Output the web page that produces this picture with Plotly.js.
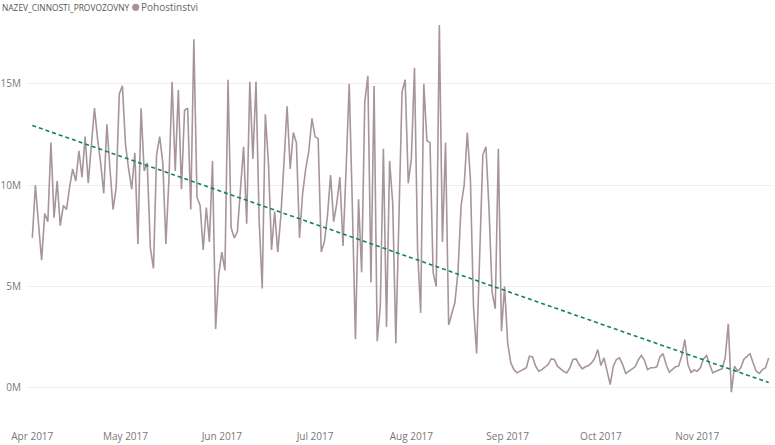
<!DOCTYPE html>
<html>
<head>
<meta charset="utf-8">
<script src="https://cdn.plot.ly/plotly-3.0.1.min.js"></script>
<style>
  html, body { margin: 0; padding: 0; background: #fff; }
  #chart { width: 775px; height: 445px; }
</style>
</head>
<body>
<div id="chart"></div>
<script>
// denni trzby (v milionech), 1.4.2017 - 24.11.2017
const startDate = '2017-04-01';
const apr = [7.4, 10.0, 8.1, 6.3, 8.6, 8.2, 12.1, 8.4, 10.2, 8.0, 9.0, 8.8, 9.9, 10.8, 10.2, 11.7, 10.4, 12.4, 10.1, 11.9, 13.8, 12.3, 11.1, 9.6, 13.0, 10.8, 8.8, 9.9, 14.5, 14.9];
const may = [12.0, 10.8, 9.8, 11.6, 7.1, 13.8, 10.7, 11.1, 6.9, 5.9, 11.5, 12.4, 11.1, 7.1, 10.4, 15.1, 10.7, 14.7, 9.8, 13.7, 13.8, 8.8, 17.2, 9.4, 9.0, 6.8, 8.9, 7.2, 11.2, 2.9, 5.6];
const jun = [6.7, 5.8, 15.2, 7.9, 7.4, 7.7, 9.8, 11.9, 8.1, 15.1, 11.3, 15.1, 8.3, 4.9, 13.5, 11.1, 6.8, 8.7, 6.7, 8.5, 11.1, 13.9, 10.8, 12.6, 12.1, 7.4, 9.6, 10.8, 11.7, 13.3];
const jul = [12.4, 12.3, 6.7, 7.2, 8.5, 10.5, 8.2, 9.1, 10.4, 7.0, 10.8, 15.0, 9.0, 2.4, 9.3, 5.7, 14.1, 15.4, 5.2, 14.9, 2.3, 4.0, 11.8, 3.0, 11.2, 9.1, 2.2, 8.5, 14.6, 15.2, 10.1];
const aug = [11.3, 15.8, 6.8, 3.7, 15.0, 12.2, 12.1, 5.7, 5.0, 17.9, 7.2, 12.1, 3.1, 3.7, 4.2, 5.7, 9.0, 10.0, 12.6, 10.3, 4.0, 1.7, 6.7, 11.5, 11.9, 8.8, 4.7, 3.9, 11.8, 2.8, 5.0];
const sep = [2.2, 1.23, 0.9, 0.74, 0.82, 0.94, 0.99, 1.56, 1.53, 1.07, 0.82, 0.9, 1.04, 1.15, 1.43, 1.4, 1.07, 0.94, 0.82, 0.74, 0.99, 1.4, 1.43, 1.15, 0.94, 1.04, 1.1, 1.23, 1.45, 1.89];
const oct = [1.1, 1.48, 0.82, 0.16, 1.07, 1.4, 1.48, 1.15, 0.71, 0.82, 0.9, 1.04, 1.37, 1.6, 1.37, 0.9, 0.99, 0.99, 1.04, 1.53, 1.69, 1.15, 0.77, 0.9, 1.04, 1.07, 1.56, 2.38, 1.15, 0.76, 0.88];
const nov = [0.82, 0.99, 1.43, 1.6, 1.15, 0.74, 0.82, 0.87, 0.94, 1.48, 3.16, -0.21, 1.07, 0.82, 0.99, 1.4, 1.56, 1.69, 1.23, 0.82, 0.71, 0.9, 0.99, 1.48];

const seriesName = 'Pohostinstvi';
const legendTitle = 'NAZEV_CINNOSTI_PROVOZOVNY';
const yTickVals = [0, 5, 10, 15];
const yTickText = ['0M', '5M', '10M', '15M'];
const xTickVals = ['2017-04-01', '2017-05-01', '2017-06-01', '2017-07-01', '2017-08-01', '2017-09-01', '2017-10-01', '2017-11-01'];
const xTickText = ['Apr 2017', 'May 2017', 'Jun 2017', 'Jul 2017', 'Aug 2017', 'Sep 2017', 'Oct 2017', 'Nov 2017'];

const values = [].concat(apr, may, jun, jul, aug, sep, oct, nov);

// datumy po dnech
const dates = values.map((v, i) => {
    const d = new Date(startDate + 'T00:00:00Z');
    d.setUTCDate(d.getUTCDate() + i);
    return d.toISOString().slice(0, 10);
});

// linearni trend (nejmensi ctverce)
function trend(ys) {
    const n = ys.length;
    let sx = 0, sy = 0, sxx = 0, sxy = 0;
    ys.forEach((y, i) => { sx += i; sy += y; sxx += i * i; sxy += i * y; });
    const b = (n * sxy - sx * sy) / (n * sxx - sx * sx);
    const a = (sy - b * sx) / n;
    return [a, a + b * (n - 1)];
}
const tr = trend(values);

const font = "'Segoe UI', 'Open Sans', sans-serif";
const lineColor = '#a7959a';

// plocha grafu: 28..772 px vodorovne, 17..398 px svisle
const W = 775, H = 445, L = 28, R = 3, T = 17, B = 47;
const px = x => (x - L) / (W - L - R);
const py = y => 1 - (y - T) / (H - T - B);

const traces = [
    {
        x: dates, y: values, type: 'scatter', mode: 'lines', name: seriesName,
        line: { color: lineColor, width: 1.6 },
        showlegend: false, hoverinfo: 'x+y'
    },
    {
        x: [dates[0], dates[dates.length - 1]], y: tr, type: 'scatter', mode: 'lines',
        line: { color: '#13806f', width: 1.6, dash: '4px,3px' },
        showlegend: false, hoverinfo: 'skip'
    }
];

const layout = {
    width: W, height: H,
    paper_bgcolor: '#ffffff', plot_bgcolor: '#ffffff',
    font: { family: font, size: 10, color: '#777' },
    margin: { l: L, r: R, t: T, b: B, autoexpand: false },
    showlegend: false,
    xaxis: {
        type: 'date',
        range: ['2017-03-30 14:47', '2017-11-25 01:40'],
        tickvals: xTickVals, ticktext: xTickText,
        showgrid: false, zeroline: false, showline: false,
        ticks: '', ticklabelstandoff: 31,
        tickfont: { size: 10, color: '#777' }
    },
    yaxis: {
        range: [-0.5, 18.3],
        tickvals: yTickVals, ticktext: yTickText,
        showgrid: true, gridcolor: '#eeeeee', gridwidth: 1,
        zeroline: false, showline: false,
        ticks: '', ticklabelstandoff: 6,
        tickfont: { size: 10, color: '#777' }
    },
    // legenda ve stylu Power BI
    annotations: [
        {
            text: legendTitle, xref: 'paper', yref: 'paper',
            x: px(0), y: py(7.5), xanchor: 'left', yanchor: 'middle', showarrow: false,
            font: { family: font, size: 8.4, color: '#555' }
        },
        {
            text: seriesName, xref: 'paper', yref: 'paper',
            x: px(138.5), y: py(7.5), xanchor: 'left', yanchor: 'middle', showarrow: false,
            font: { family: font, size: 10, color: '#666' }
        }
    ],
    shapes: [
        {
            type: 'circle', xref: 'paper', yref: 'paper',
            xsizemode: 'pixel', ysizemode: 'pixel',
            xanchor: px(135.7), yanchor: py(7.3),
            x0: -3.6, x1: 3.6, y0: -3.6, y1: 3.6,
            fillcolor: lineColor, line: { width: 0 }
        }
    ]
};

Plotly.newPlot('chart', traces, layout, { displayModeBar: false, staticPlot: true });
</script>
</body>
</html>
